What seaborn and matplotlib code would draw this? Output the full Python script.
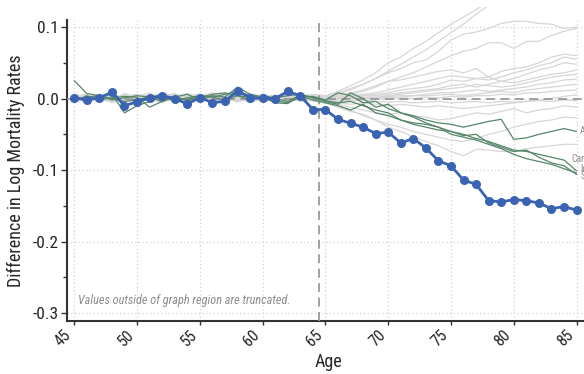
import numpy as np
import pandas as pd
import matplotlib
matplotlib.use("Agg")
import matplotlib.pyplot as plt
import matplotlib.transforms as mtransforms
import seaborn as sns
from matplotlib.ticker import MultipleLocator

ages = list(range(45, 86))

# Treated unit
treated_name = "Iowa"
treated = [0.001, -0.0015, 0.001, 0.009, -0.0098, -0.0047, 0.001, 0.004, 0.0, -0.0075,
           0.0014, -0.0056, -0.004, 0.011, 0.0014, 0.0005, 0.0, 0.010, 0.004, -0.0154,
           -0.0154, -0.029, -0.0345, -0.040, -0.049, -0.047, -0.062, -0.056, -0.069, -0.087,
           -0.094, -0.114, -0.120, -0.1427, -0.1445, -0.1413, -0.1427, -0.146, -0.154, -0.151,
           -0.156]

# Highlighted comparison units
green_names = ["Alberta", "Cardiff", "Idaho", "Surrey"]
green_a = [0.025, 0.007, 0.004, 0.0, -0.004, -0.002, 0.003, 0.002, -0.003, 0.001,
           0.004, 0.002, 0.006, 0.010, 0.004, 0.0, -0.003, -0.006, 0.002, 0.003,
           -0.002, 0.008, 0.004, -0.006, -0.004, -0.014, -0.020, -0.024, -0.030, -0.034,
           -0.036, -0.040, -0.036, -0.032, -0.029, -0.057, -0.055, -0.050, -0.046, -0.042,
           -0.046]
green_b = [0.002, -0.004, 0.003, 0.006, -0.020, -0.010, -0.004, 0.003, 0.001, -0.002,
           0.004, 0.002, -0.002, 0.004, 0.002, 0.001, 0.0, -0.004, 0.005, 0.002,
           -0.004, -0.008, 0.008, 0.0, -0.012, -0.008, -0.020, -0.026, -0.034, -0.040,
           -0.046, -0.050, -0.056, -0.060, -0.066, -0.072, -0.074, -0.078, -0.082, -0.086,
           -0.101]
green_c = [-0.004, 0.004, -0.002, 0.001, 0.003, 0.002, -0.012, -0.004, 0.002, 0.006,
           -0.002, 0.004, 0.002, 0.016, 0.006, 0.002, -0.006, -0.007, 0.004, -0.002,
           -0.006, -0.010, -0.016, -0.008, -0.020, -0.024, -0.030, -0.034, -0.036, -0.040,
           -0.050, -0.054, -0.058, -0.064, -0.070, -0.078, -0.084, -0.088, -0.092, -0.098,
           -0.104]
green_d = [-0.003, 0.002, 0.004, -0.002, 0.001, 0.004, 0.002, -0.004, 0.003, -0.003,
           0.001, 0.006, 0.008, 0.004, -0.002, 0.004, 0.001, 0.004, 0.006, 0.001,
           -0.003, -0.006, -0.004, -0.010, -0.016, -0.020, -0.030, -0.036, -0.040, -0.044,
           -0.046, -0.052, -0.050, -0.062, -0.068, -0.074, -0.072, -0.082, -0.090, -0.094,
           -0.106]

# Remaining comparison units
gray_01 = [0.004, -0.003, 0.006, 0.002, -0.005, 0.003, 0.008, -0.002, 0.001, 0.005,
           -0.004, 0.002, 0.006, 0.0, -0.003, 0.004, 0.002, 0.005, 0.003, 0.006,
           0.004, 0.010, 0.018, 0.026, 0.036, 0.050, 0.058, 0.070, 0.080, 0.092,
           0.104, 0.114, 0.124, 0.136, 0.148, 0.160, 0.172, 0.184, 0.196, 0.208, 0.222]
gray_02 = [-0.002, 0.005, 0.001, -0.004, 0.007, 0.002, -0.003, 0.004, 0.006, -0.001,
           0.003, 0.008, 0.001, -0.005, 0.002, 0.006, 0.001, -0.002, 0.004, 0.003,
           0.002, 0.006, 0.012, 0.020, 0.028, 0.038, 0.048, 0.058, 0.068, 0.080,
           0.092, 0.104, 0.118, 0.130, 0.140, 0.150, 0.160, 0.170, 0.180, 0.192, 0.205]
gray_03 = [0.003, 0.006, -0.002, 0.004, 0.001, -0.004, 0.005, 0.002, -0.003, 0.004,
           0.006, -0.002, 0.003, 0.005, 0.001, -0.002, 0.004, 0.006, 0.002, 0.004,
           0.003, 0.008, 0.014, 0.020, 0.028, 0.036, 0.042, 0.050, 0.054, 0.066,
           0.082, 0.090, 0.093, 0.098, 0.105, 0.108, 0.108, 0.105, 0.104, 0.098, 0.100]
gray_04 = [-0.004, 0.002, 0.005, -0.001, 0.003, 0.006, -0.002, 0.001, 0.004, -0.003,
           0.002, 0.005, -0.001, 0.003, 0.007, 0.002, -0.003, 0.001, 0.005, 0.002,
           0.0, 0.004, 0.008, 0.012, 0.018, 0.024, 0.030, 0.036, 0.044, 0.052,
           0.060, 0.066, 0.070, 0.078, 0.078, 0.070, 0.080, 0.080, 0.088, 0.094, 0.098]
gray_05 = [0.006, 0.001, -0.003, 0.004, 0.002, -0.005, 0.003, 0.007, 0.001, -0.002,
           0.005, 0.001, -0.004, 0.002, 0.006, 0.003, -0.001, 0.004, 0.001, 0.003,
           0.002, 0.004, 0.006, 0.010, 0.016, 0.024, 0.026, 0.030, 0.034, 0.038,
           0.040, 0.036, 0.042, 0.030, 0.038, 0.042, 0.044, 0.050, 0.058, 0.062, 0.060]
gray_06 = [-0.001, 0.004, 0.002, -0.006, 0.001, 0.005, 0.003, -0.002, 0.006, 0.002,
           -0.003, 0.004, 0.001, 0.007, -0.002, 0.003, 0.005, 0.0, 0.002, 0.001,
           0.0, 0.002, 0.004, 0.006, 0.008, 0.012, 0.016, 0.020, 0.024, 0.028,
           0.032, 0.030, 0.028, 0.026, 0.030, 0.036, 0.040, 0.046, 0.050, 0.058, 0.055]
gray_07 = [0.002, -0.005, 0.003, 0.001, 0.006, -0.002, 0.004, 0.002, -0.004, 0.003,
           0.001, -0.003, 0.005, 0.002, 0.004, -0.001, 0.002, 0.003, -0.002, 0.002,
           0.001, 0.0, 0.003, 0.004, 0.006, 0.008, 0.012, 0.014, 0.016, 0.020,
           0.026, 0.024, 0.028, 0.030, 0.024, 0.028, 0.034, 0.040, 0.044, 0.050, 0.048]
gray_08 = [0.005, 0.002, -0.001, 0.006, -0.003, 0.001, 0.004, -0.005, 0.002, 0.007,
           0.001, 0.003, -0.002, 0.004, 0.0, 0.005, -0.002, 0.003, 0.001, -0.001,
           -0.001, 0.002, 0.002, 0.004, 0.004, 0.006, 0.008, 0.010, 0.012, 0.014,
           0.018, 0.020, 0.016, 0.020, 0.024, 0.022, 0.026, 0.030, 0.034, 0.036, 0.040]
gray_09 = [-0.003, 0.003, 0.006, 0.0, 0.004, -0.004, 0.002, 0.005, -0.001, 0.002,
           0.006, 0.0, 0.003, -0.004, 0.005, 0.001, 0.003, -0.003, 0.004, 0.0,
           0.0, -0.002, 0.0, 0.002, 0.002, 0.004, 0.006, 0.008, 0.010, 0.012,
           0.014, 0.016, 0.020, 0.018, 0.016, 0.018, 0.022, 0.026, 0.030, 0.032, 0.034]
gray_10 = [0.001, 0.006, -0.004, 0.003, -0.001, 0.004, 0.0, 0.003, 0.007, -0.003,
           0.002, 0.004, 0.001, -0.002, 0.003, 0.006, 0.0, 0.002, -0.003, 0.002,
           0.002, 0.001, 0.002, 0.0, 0.002, 0.003, 0.004, 0.004, 0.006, 0.008,
           0.008, 0.010, 0.012, 0.010, 0.012, 0.014, 0.016, 0.020, 0.022, 0.026, 0.027]
gray_11 = [0.003, -0.002, 0.001, 0.005, 0.002, -0.006, 0.003, 0.001, 0.004, 0.0,
           -0.005, 0.003, 0.006, 0.001, -0.002, 0.002, 0.004, -0.001, 0.003, -0.001,
           -0.002, -0.001, 0.0, 0.001, 0.0, 0.002, 0.002, 0.004, 0.004, 0.005,
           0.006, 0.004, 0.006, 0.008, 0.010, 0.008, 0.012, 0.014, 0.016, 0.018, 0.020]
gray_12 = [-0.005, 0.001, 0.004, -0.002, 0.005, 0.001, -0.004, 0.006, 0.002, -0.001,
           0.003, -0.004, 0.002, 0.005, -0.001, 0.002, -0.004, 0.001, 0.003, -0.002,
           -0.003, -0.004, -0.002, -0.003, -0.001, 0.0, 0.001, 0.0, 0.002, 0.001,
           0.003, 0.002, 0.004, 0.004, 0.006, 0.005, 0.008, 0.008, 0.010, 0.011, 0.012]
gray_13 = [0.002, 0.004, -0.003, 0.001, -0.006, 0.002, 0.005, -0.001, -0.004, 0.003,
           0.001, -0.002, -0.005, 0.002, 0.001, -0.003, 0.002, -0.002, -0.001, -0.003,
           -0.004, -0.006, -0.008, -0.006, -0.008, -0.010, -0.008, -0.010, -0.012, -0.010,
           -0.012, -0.014, -0.012, -0.010, -0.008, -0.006, -0.004, -0.002, 0.0, 0.003, 0.005]
gray_14 = [-0.002, -0.004, 0.002, -0.003, 0.001, -0.005, 0.0, 0.003, -0.002, -0.004,
           0.002, -0.001, 0.004, -0.003, 0.001, -0.004, 0.0, 0.002, -0.003, -0.001,
           -0.002, -0.003, -0.004, -0.002, -0.004, -0.005, -0.004, -0.006, -0.005, -0.004,
           -0.006, -0.005, -0.004, -0.006, -0.004, -0.005, -0.004, -0.003, -0.004, -0.002,
           -0.003]
gray_15 = [0.004, -0.001, -0.005, 0.002, -0.002, 0.003, -0.004, 0.001, 0.004, -0.003,
           -0.001, 0.005, -0.003, 0.0, -0.005, 0.002, -0.002, 0.001, -0.004, -0.002,
           -0.004, -0.008, -0.012, -0.016, -0.020, -0.022, -0.020, -0.024, -0.026, -0.030,
           -0.028, -0.024, -0.020, -0.022, -0.018, -0.014, -0.020, -0.016, -0.014, -0.010,
           -0.012]
gray_16 = [-0.006, 0.002, -0.002, -0.004, 0.003, -0.003, 0.001, -0.005, 0.002, 0.0,
           -0.004, 0.001, -0.003, 0.002, -0.006, 0.0, -0.002, -0.004, 0.001, -0.003,
           -0.006, -0.012, -0.018, -0.022, -0.030, -0.036, -0.040, -0.046, -0.050, -0.054,
           -0.058, -0.060, -0.056, -0.050, -0.046, -0.040, -0.036, -0.032, -0.030, -0.026,
           -0.027]
gray_17 = [0.001, -0.006, 0.003, -0.002, -0.004, 0.002, -0.001, -0.006, 0.004, -0.002,
           0.0, -0.005, 0.002, -0.003, 0.001, -0.004, -0.001, 0.002, -0.002, -0.003,
           -0.004, -0.010, -0.016, -0.024, -0.030, -0.040, -0.046, -0.054, -0.060, -0.066,
           -0.074, -0.080, -0.071, -0.072, -0.074, -0.074, -0.070, -0.068, -0.066, -0.064,
           -0.064]

gray_series = [gray_01, gray_02, gray_03, gray_04, gray_05, gray_06, gray_07, gray_08, gray_09,
               gray_10, gray_11, gray_12, gray_13, gray_14, gray_15, gray_16, gray_17]
green_series = [green_a, green_b, green_c, green_d]

x_ticks = [45, 50, 55, 60, 65, 70, 75, 80, 85]
y_ticks = [0.1, 0.0, -0.1, -0.2, -0.3]
y_tick_labels = ["0.1", "0.0", "-0.1", "-0.2", "-0.3"]

# Axis range: the frame spans y_lo..y_hi, while series are drawn up to y_cut
x_lo, x_hi = 44.42, 86.0
y_lo, y_hi, y_cut = -0.311, 0.110, 0.128
treatment_age = 64.5


def long_frame(series_list, prefix):
    frames = []
    for i, vals in enumerate(series_list):
        frames.append(pd.DataFrame({"age": ages, "value": vals, "unit": f"{prefix}{i}"}))
    return pd.concat(frames, ignore_index=True)


gray_df = long_frame(gray_series, "g")
green_df = long_frame(green_series, "c")
treated_df = pd.DataFrame({"age": ages, "value": treated})

sns.set_style("ticks")
plt.rcParams["font.family"] = ["Roboto Condensed", "Liberation Sans", "DejaVu Sans"]

fig = plt.figure(figsize=(5.84, 3.74), dpi=100)
ax = fig.add_axes([0.1147, 0.1417, 0.894, 0.8396])

blue = "#3a63b1"
green = "#55866a"
dash_gray = "#9a9a9a"
grid_gray = "#d2d2d2"

# Dotted grid confined to the labelled frame
ax.vlines(x_ticks, y_lo, y_hi, colors=grid_gray, linestyles=(0, (1, 2)), linewidth=0.9, zorder=1)
ax.hlines(y_ticks, x_lo, x_hi, colors=grid_gray, linestyles=(0, (1, 2)), linewidth=0.9, zorder=1)

sns.lineplot(data=gray_df, x="age", y="value", units="unit", estimator=None,
             color="#d6d6d6", linewidth=0.9, ax=ax, zorder=2)
ax.hlines(0, x_lo, x_hi, colors=dash_gray, linestyles=(0, (5, 3)), linewidth=1.3, zorder=3)
ax.vlines(treatment_age, y_lo, y_hi, colors=dash_gray, linestyles=(0, (5, 3)),
          linewidth=1.3, zorder=3)
sns.lineplot(data=green_df, x="age", y="value", units="unit", estimator=None,
             color=green, linewidth=0.9, ax=ax, zorder=4)
sns.lineplot(data=treated_df, x="age", y="value", color=blue, linewidth=2.0,
             marker="o", markersize=6.5, markeredgewidth=0, ax=ax, zorder=5)

# End-of-line labels
label_pos = {"Alberta": (85.3, 0.0), "Cardiff": (84.6, 0.017),
             "Idaho": (85.3, 0.005), "Surrey": (85.3, -0.002)}
for name, vals in zip(green_names, green_series):
    lx, dy = label_pos[name]
    ax.text(lx, vals[-1] + dy, name, color="#8a8a8a", fontsize=7,
            va="center", ha="left", clip_on=False, zorder=6)
ax.text(85.5, treated[-1], treated_name, color=blue, fontsize=7,
        va="center", ha="left", clip_on=False, zorder=6)

ax.text(45.3, -0.282, "Values outside of graph region are truncated.",
        color="#8c8c8c", fontsize=8.8, style="italic", va="center", ha="left")

ax.set_xlim(x_lo, x_hi)
ax.set_ylim(y_lo, y_cut)
ax.set_xticks(x_ticks)
ax.set_xticklabels([str(t) for t in x_ticks], rotation=45, ha="right", va="top", fontsize=11.5)
shift = mtransforms.ScaledTranslation(2 / 100, 0, fig.dpi_scale_trans)
for lbl in ax.get_xticklabels():
    lbl.set_transform(lbl.get_transform() + shift)
ax.set_yticks(y_ticks)
ax.set_yticklabels(y_tick_labels, fontsize=12.5)
ax.yaxis.set_minor_locator(MultipleLocator(0.05))
ax.tick_params(axis="y", which="major", length=4, width=1.0, color="#333333", pad=2)
ax.tick_params(axis="y", which="minor", length=3, width=1.0, color="#333333")
ax.tick_params(axis="x", which="major", length=3, width=1.0, color="#333333", pad=1.5)
ax.grid(False)

for side in ["top", "right"]:
    ax.spines[side].set_visible(False)
for side in ["left", "bottom"]:
    ax.spines[side].set_color("#333333")
    ax.spines[side].set_linewidth(1.5)
ax.spines["left"].set_bounds(y_lo, y_hi)

ax.set_xlabel("Age", fontsize=13, labelpad=3)
ax.set_ylabel("Difference in Log Mortality Rates", fontsize=13)
frame_mid = (0.5 * (y_lo + y_hi) - y_lo) / (y_cut - y_lo)
ax.yaxis.set_label_coords(-0.080, frame_mid)

fig.savefig("out.png", dpi=100)
